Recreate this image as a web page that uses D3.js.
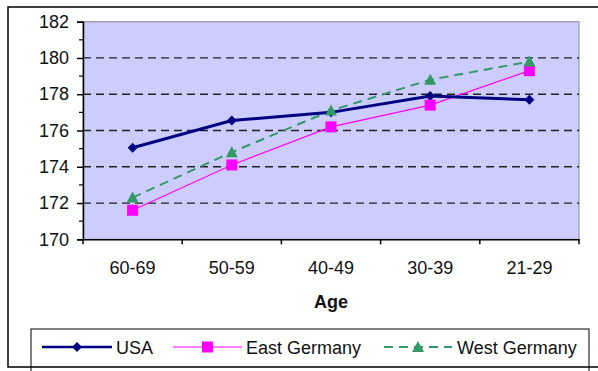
<!DOCTYPE html>
<html>
<head>
<meta charset="utf-8">
<script src="https://cdn.jsdelivr.net/npm/d3@7"></script>
<style>
  html, body { margin: 0; padding: 0; background: #fff; }
  svg { display: block; }
  text { font-family: "Liberation Sans", Arial, sans-serif; fill: #111; }
</style>
</head>
<body>
<svg id="chart" width="598" height="371"></svg>
<script>
const categories = ["60-69", "50-59", "40-49", "30-39", "21-29"];
const usa = [175.05, 176.55, 177.0, 177.9, 177.7];
const eastGermany = [171.6, 174.1, 176.2, 177.4, 179.3];
const westGermany = [172.3, 174.8, 177.1, 178.8, 179.8];
const yTicks = [170, 172, 174, 176, 178, 180, 182];
const xTitle = "Age";
const seriesNames = ["USA", "East Germany", "West Germany"];

const svg = d3.select("#chart");
const plot = { left: 83, top: 21.7, right: 579, bottom: 239.3 };
const FS = 18;

// outer frame background
svg.append("rect").attr("x", 8).attr("y", 7).attr("width", 640).attr("height", 360)
  .attr("fill", "#fff");

const x = d3.scaleBand().domain(categories).range([plot.left, plot.right]).padding(0);
const y = d3.scaleLinear().domain([170, 182]).range([plot.bottom, plot.top]);

// plot background
svg.append("rect").attr("x", plot.left).attr("y", plot.top)
  .attr("width", plot.right - plot.left).attr("height", plot.bottom - plot.top)
  .attr("fill", "#CCCCFF").attr("stroke", "#888").attr("stroke-width", 1);

// grid
svg.append("g").selectAll("line").data(yTicks.filter(d => d > 170 && d < 182)).join("line")
  .attr("x1", plot.left).attr("x2", plot.right)
  .attr("y1", d => y(d)).attr("y2", d => y(d))
  .attr("stroke", "#222").attr("stroke-width", 1.3).attr("stroke-dasharray", "8,5");

// y axis
const yAxis = svg.append("g").attr("transform", `translate(${plot.left},0)`)
  .call(d3.axisLeft(y).tickValues(yTicks).tickSize(6).tickPadding(8).tickFormat(d3.format("d")));
yAxis.select(".domain").attr("stroke", "#000").attr("stroke-width", 1.5);
yAxis.selectAll(".tick line").attr("stroke", "#000").attr("stroke-width", 1.5);
yAxis.selectAll("text").attr("font-size", FS).attr("fill", "#111")
  .style("font-family", "'Liberation Sans', Arial, sans-serif");
// minor ticks
svg.append("g").selectAll("line").data(d3.range(171, 182, 2)).join("line")
  .attr("x1", plot.left - 4).attr("x2", plot.left)
  .attr("y1", d => y(d)).attr("y2", d => y(d))
  .attr("stroke", "#000").attr("stroke-width", 1.2);

// x axis
const xAxis = svg.append("g").attr("transform", `translate(0,${plot.bottom})`)
  .call(d3.axisBottom(x).tickSize(0).tickPadding(22));
xAxis.select(".domain").attr("stroke", "#000").attr("stroke-width", 1.5);
xAxis.selectAll("text").attr("font-size", FS).attr("fill", "#111")
  .style("font-family", "'Liberation Sans', Arial, sans-serif");
const bounds = categories.map(c => x(c)).concat([x(categories[categories.length - 1]) + x.bandwidth()]);
svg.append("g").selectAll("line").data(bounds).join("line")
  .attr("x1", d => d).attr("x2", d => d)
  .attr("y1", plot.bottom).attr("y2", plot.bottom + 5)
  .attr("stroke", "#000").attr("stroke-width", 1.5);

svg.append("text").attr("x", (plot.left + plot.right) / 2).attr("y", 308)
  .attr("text-anchor", "middle").attr("font-size", FS).attr("font-weight", "bold").text(xTitle);

const cx = c => x(c) + x.bandwidth() / 2;
const line = d3.line().x(d => cx(d.c)).y(d => y(d.v));
const pts = arr => arr.map((v, i) => ({ c: categories[i], v }));

const styles = [
  { data: usa, color: "#000080", width: 3, dash: null, marker: "diamond" },
  { data: eastGermany, color: "#FF00FF", width: 1.2, dash: null, marker: "square" },
  { data: westGermany, color: "#339966", width: 2, dash: "9,6", marker: "triangle" }
];

function marker(g, type, color) {
  if (type === "diamond") {
    g.append("path").attr("d", "M0,-5L5,0L0,5L-5,0Z").attr("fill", color);
  } else if (type === "square") {
    g.append("rect").attr("x", -5.5).attr("y", -5.5).attr("width", 11).attr("height", 11).attr("fill", color);
  } else {
    g.append("path").attr("d", "M0,-6L6,5L-6,5Z").attr("fill", color);
  }
}

[2, 1, 0].forEach(i => {
  const s = styles[i];
  svg.append("path").datum(pts(s.data)).attr("d", line)
    .attr("fill", "none").attr("stroke", s.color).attr("stroke-width", s.width)
    .attr("stroke-dasharray", s.dash);
});
[0, 1, 2].forEach(i => {
  const s = styles[i];
  pts(s.data).forEach(p => {
    const g = svg.append("g").attr("transform", `translate(${cx(p.c)},${y(p.v)})`);
    marker(g, s.marker, s.color);
  });
});

// legend
svg.append("rect").attr("x", 31).attr("y", 329).attr("width", 558).attr("height", 60)
  .attr("fill", "#fff").attr("stroke", "#000").attr("stroke-width", 1);
const legendItems = [
  { x1: 42, x2: 112, tx: 116 },
  { x1: 173, x2: 242, tx: 246 },
  { x1: 384, x2: 452, tx: 457 }
];
const ly = 347;
legendItems.forEach((it, i) => {
  const s = styles[i];
  svg.append("line").attr("x1", it.x1).attr("x2", it.x2).attr("y1", ly).attr("y2", ly)
    .attr("stroke", s.color).attr("stroke-width", i === 0 ? 2.5 : (i === 1 ? 1.2 : 2))
    .attr("stroke-dasharray", i === 2 ? "9,6" : null);
  const g = svg.append("g").attr("transform", `translate(${(it.x1 + it.x2) / 2},${ly})`);
  marker(g, s.marker, s.color);
  svg.append("text").attr("x", it.tx).attr("y", ly + 6.5).attr("font-size", FS).text(seriesNames[i]);
});

// outer frame outline on top
svg.append("rect").attr("x", 8).attr("y", 7).attr("width", 640).attr("height", 360)
  .attr("fill", "none").attr("stroke", "#000").attr("stroke-width", 1.5);
</script>
</body>
</html>
